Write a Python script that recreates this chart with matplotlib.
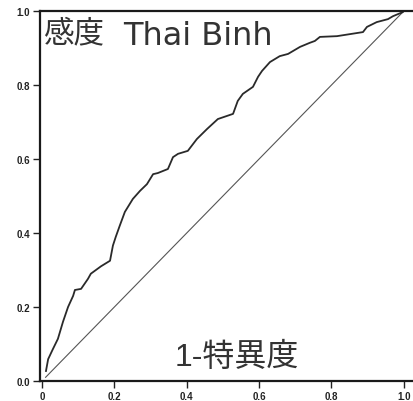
import matplotlib
matplotlib.use("Agg")
import matplotlib.pyplot as plt

plt.rcParams['font.family'] = ['Liberation Sans', 'Noto Sans CJK JP', 'DejaVu Sans']

# ROC curve points (1 - specificity, sensitivity)
fpr = [0.011, 0.017, 0.030, 0.044, 0.058, 0.072, 0.086, 0.091, 0.108, 0.127,
       0.135, 0.163, 0.188, 0.196, 0.204, 0.215, 0.229, 0.251, 0.271, 0.290,
       0.307, 0.320, 0.348, 0.362, 0.376, 0.403, 0.428, 0.456, 0.486, 0.528,
       0.541, 0.555, 0.583, 0.597, 0.608, 0.630, 0.657, 0.680, 0.713, 0.740,
       0.754, 0.768, 0.815, 0.887, 0.898, 0.925, 0.956, 0.970, 0.997, 1.000]
tpr = [0.027, 0.059, 0.086, 0.114, 0.160, 0.200, 0.230, 0.246, 0.249, 0.276,
       0.290, 0.310, 0.325, 0.366, 0.390, 0.420, 0.457, 0.492, 0.514, 0.532,
       0.559, 0.562, 0.573, 0.605, 0.614, 0.622, 0.654, 0.681, 0.708, 0.722,
       0.757, 0.776, 0.795, 0.822, 0.838, 0.862, 0.878, 0.884, 0.903, 0.914,
       0.919, 0.930, 0.932, 0.943, 0.957, 0.970, 0.978, 0.986, 0.997, 1.000]

ref_line = [0.01, 1.0]
ticks = [0.0, 0.2, 0.4, 0.6, 0.8, 1.0]
xtick_labels = ["0", "0.2", "0.4", "0.6", "0.8", "1.0"]
ytick_labels = ["0.0", "0.2", "0.4", "0.6", "0.8", "1.0"]

fig = plt.figure(figsize=(4.14, 4.02), dpi=100)
ax = fig.add_axes([40 / 414, 20 / 402, 374 / 414, 370 / 402])

ax.plot(ref_line, ref_line, color="#555555", lw=0.8)
ax.plot(fpr, tpr, color="#2a2a2a", lw=1.3)

ax.set_xlim(-0.0055, 1.028)
ax.set_ylim(0, 1)
ax.set_xticks(ticks)
ax.set_xticklabels(xtick_labels)
ax.set_yticks(ticks)
ax.set_yticklabels(ytick_labels)
ax.tick_params(direction="out", length=5, width=1, labelsize=7, colors="#222222", pad=2)
for lab in ax.get_xticklabels() + ax.get_yticklabels():
    lab.set_fontweight("bold")

ax.spines["right"].set_visible(False)
for side in ["left", "bottom", "top"]:
    ax.spines[side].set_linewidth(1.6)
    ax.spines[side].set_color("#1a1a1a")

# axis titles placed inside the frame
ax.text(0.008, 0.918, "感度", transform=ax.transAxes, fontsize=22,
        color="#333333", ha="left", va="baseline")
ax.text(0.222, 0.911, "Thai Binh", transform=ax.transAxes, fontsize=23,
        family="DejaVu Sans", color="#333333", ha="left", va="baseline")
ax.text(0.527, 0.066, "1-特異度", transform=ax.transAxes, fontsize=23,
        color="#333333", ha="center", va="center")

fig.savefig("out.png", dpi=100)
